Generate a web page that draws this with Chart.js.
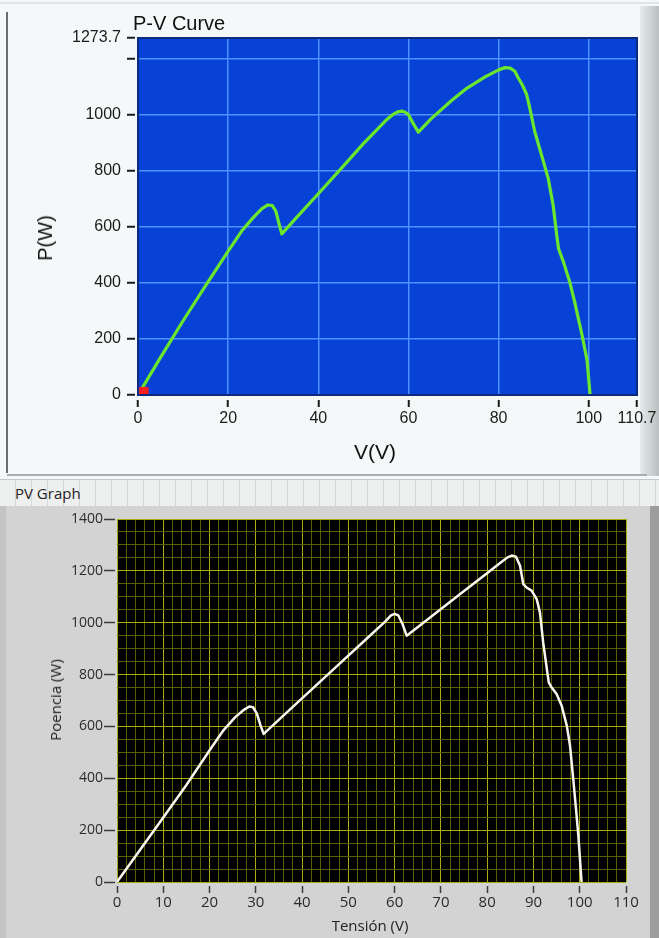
<!DOCTYPE html>
<html>
<head>
<meta charset="utf-8">
<title>P-V Curve / PV Graph</title>
<script src="https://cdn.jsdelivr.net/npm/chart.js@4.4.1/dist/chart.umd.min.js"></script>
<style>
    html, body { margin: 0; padding: 0; }
    body {
        width: 659px; height: 938px; position: relative; overflow: hidden;
        background: #f4f8f9;
        font-family: "Liberation Sans", Arial, sans-serif;
    }
    .abs { position: absolute; }
    #topLine { left: 0; top: 2px; width: 659px; height: 2px; background: #dfe4e4; }
    #leftFrame { left: 6px; top: 12px; width: 2px; height: 461px; background: #6b6e6e; }
    #topBottomLine { left: 7px; top: 474px; width: 640px; height: 2px; background: #a9aeae; }
    #topRightBar { left: 640px; top: 6px; width: 19px; height: 470px;
        background: linear-gradient(to right, #e6ecec, #b7bfbf); }
    #tabBar { left: 0; top: 479px; width: 659px; height: 27px; background: #eef0f0;
        background-image: repeating-linear-gradient(to right, transparent 0, transparent 15px, #d3d7d7 15px, #d3d7d7 16px);
        border-top: 1px solid #c3c7c7; }
    #tabLabel { left: 15px; top: 486px; font: 15px/1 "Open Sans", sans-serif; color: #222; }
    #bottomPanel { left: 0; top: 506px; width: 659px; height: 432px; background: #d3d3d3; }
    #bottomLeft { left: 0; top: 506px; width: 6px; height: 432px; background: #c4c4c4; }
    #bottomRight { left: 650px; top: 506px; width: 9px; height: 432px; background: #9d9d9d; }
    #curveTitle { left: 133px; top: 13px; font-size: 20px; line-height: 1; color: #111; }
    .ytitle { transform: translate(-50%, -50%) rotate(-90deg); white-space: nowrap; line-height: 1; }
    .xtitle { transform: translate(-50%, -50%); white-space: nowrap; line-height: 1; }
    #curveY { left: 45px; top: 238px; font-size: 20px; color: #111; }
    #curveX { left: 375px; top: 451px; font-size: 21px; color: #111; }
    #graphY { left: 55px; top: 700px; font: 15px "Open Sans", sans-serif; color: #222; }
    #graphX { left: 370px; top: 925px; font: 15px "Open Sans", sans-serif; color: #222; }
    canvas { position: absolute; left: 0; }
</style>
</head>
<body>
<div class="abs" id="topLine"></div>
<div class="abs" id="leftFrame"></div>
<div class="abs" id="topRightBar"></div>
<div class="abs" id="topBottomLine"></div>
<div class="abs" id="tabBar"></div>
<div class="abs" id="tabLabel">PV Graph</div>
<div class="abs" id="bottomPanel"></div>
<div class="abs" id="bottomLeft"></div>
<div class="abs" id="bottomRight"></div>

<canvas id="pvCurve" width="659" height="470" style="top:0"></canvas>
<canvas id="pvGraph" width="659" height="433" style="top:505px"></canvas>

<div class="abs" id="curveTitle">P-V Curve</div>
<div class="abs ytitle" id="curveY">P(W)</div>
<div class="abs xtitle" id="curveX">V(V)</div>
<div class="abs ytitle" id="graphY">Poencia (W)</div>
<div class="abs xtitle" id="graphX">Tensión (V)</div>

<script>
// ---- top chart: P-V Curve (green) ----
const curveVoltage = [0, 5, 10, 15, 20, 23, 25.5, 27.5, 28.8, 29.8, 30.6, 31.3, 31.9, 35, 40, 45, 50, 55, 56.5,
    57.6, 58.5, 59.3, 60, 61, 62.2, 65, 69.5, 73, 77, 80, 81.4, 82.6, 83.6, 84.3, 85.3, 86.2, 86.9, 88, 89.5, 91,
    92.1, 92.9, 93.3, 94.4, 95.8, 96.9, 98.4, 99.6, 100.3];
const curvePower = [0, 134, 265, 390, 513, 585, 632, 665, 678, 676, 655, 610, 575, 630, 718, 807, 897, 980, 1000,
    1010, 1013, 1009, 1000, 970, 938, 985, 1050, 1095, 1135, 1160, 1168, 1166, 1155, 1133, 1105, 1073, 1025, 941, 857,
    773, 677, 569, 522, 474, 402, 330, 222, 126, 0];
const markerVoltage = [1.3];
const markerPower = [12];
const curveXTicks = [0, 20, 40, 60, 80, 100, 110.7];
const curveYTicks = [0, 200, 400, 600, 800, 1000, 1200, 1273.7];
const curveYUnlabeled = [1200];

// ---- bottom chart: PV Graph (white) ----
const graphVoltage = [0, 5, 10, 15, 20.2, 23, 25.5, 27.5, 28.6, 29.4, 30.2, 31, 31.7, 37, 43.2, 48, 54, 58, 59.2,
    60, 60.8, 61.7, 62.6, 66, 70.5, 75, 79.9, 83, 84.4, 85.3, 86.2, 87.1, 87.8, 88.5, 89.6, 90.7, 91.4, 92.1, 92.9,
    93.3, 93.9, 95, 96.1, 97.2, 97.9, 98.6, 99.2, 99.7, 100.4];
const graphPower = [0, 124, 249, 374, 513, 585, 635, 665, 677, 674, 650, 605, 571, 659, 761, 840, 939, 1005, 1028,
    1034, 1028, 995, 950, 997, 1060, 1122, 1190, 1233, 1252, 1259, 1255, 1220, 1149, 1136, 1124, 1091, 1040, 924, 821,
    770, 751, 725, 680, 603, 526, 397, 281, 179, 0];
const graphXMax = 110, graphXMinor = 2, graphXMajor = 10;
const graphYMax = 1400, graphYMinor = 50, graphYMajor = 200;

const toPoints = (xs, ys) => xs.map((x, i) => ({ x: x, y: ys[i] }));

// fills (and optionally outlines) the plot area
const plotBackground = {
    id: 'plotBackground',
    beforeDraw(chart, args, opts) {
        const { ctx, chartArea: a } = chart;
        ctx.save();
        ctx.fillStyle = opts.color;
        ctx.fillRect(a.left, a.top, a.width, a.height);
        ctx.restore();
    },
    afterDraw(chart, args, opts) {
        if (!opts.border) return;
        const { ctx, chartArea: a } = chart;
        ctx.save();
        ctx.strokeStyle = opts.border;
        ctx.lineWidth = 2;
        ctx.strokeRect(a.left, a.top, a.width, a.height);
        ctx.restore();
    }
};

const commonOptions = {
    responsive: false,
    animation: false,
    events: [],
    plugins: { legend: { display: false }, tooltip: { enabled: false } }
};

const curveFont = { family: '"Liberation Sans", Arial, sans-serif', size: 16 };

new Chart(document.getElementById('pvCurve'), {
    type: 'scatter',
    data: {
        datasets: [
            {
                data: toPoints(markerVoltage, markerPower),
                pointStyle: 'rect',
                pointRadius: 6,
                backgroundColor: '#ff1c1c',
                borderColor: '#ff1c1c'
            },
            {
                data: toPoints(curveVoltage, curvePower),
                showLine: true,
                borderColor: '#6ae62c',
                borderWidth: 3.2,
                borderJoinStyle: 'round',
                pointRadius: 0,
                tension: 0
            }
        ]
    },
    plugins: [plotBackground],
    options: {
        ...commonOptions,
        layout: { padding: { left: 0, top: 38, right: 22, bottom: 0 } },
        plugins: { ...commonOptions.plugins, plotBackground: { color: '#0841d6', border: '#0d2a7c' } },
        scales: {
            x: {
                type: 'linear',
                min: 0,
                max: 110.7,
                afterBuildTicks: (scale) => { scale.ticks = curveXTicks.map(v => ({ value: v })); },
                afterFit: (scale) => { scale.height = 75; },
                border: { display: false },
                grid: {
                    color: (c) => (c.tick.value === 0 || c.tick.value === 110.7) ? 'rgba(0,0,0,0)' : '#4f91ff',
                    lineWidth: 1.5,
                    tickColor: '#1c1c1c',
                    tickWidth: 2,
                    tickLength: 12,
                    tickBorderDash: [0, 5, 7, 100]
                },
                ticks: {
                    autoSkip: false,
                    maxRotation: 0,
                    padding: 2,
                    color: '#1b1b1b',
                    font: curveFont,
                    callback: (v) => String(v)
                }
            },
            y: {
                type: 'linear',
                min: 0,
                max: 1273.7,
                afterBuildTicks: (scale) => { scale.ticks = curveYTicks.map(v => ({ value: v })); },
                afterFit: (scale) => { scale.width = 138; },
                border: { display: false },
                grid: {
                    color: (c) => (c.tick.value === 0 || c.tick.value === 1273.7) ? 'rgba(0,0,0,0)' : '#4f91ff',
                    lineWidth: 1.5,
                    tickColor: '#1c1c1c',
                    tickWidth: 2,
                    tickLength: 11,
                    tickBorderDash: [8, 100]
                },
                ticks: {
                    autoSkip: false,
                    padding: 6,
                    color: '#1b1b1b',
                    font: curveFont,
                    callback: (v) => curveYUnlabeled.includes(v) ? '' : String(v)
                }
            }
        }
    }
});

const graphFont = { family: '"Open Sans", sans-serif', size: 14 };
const majorGrid = '#a9ad12';
const minorGrid = '#5a5e00';

new Chart(document.getElementById('pvGraph'), {
    type: 'scatter',
    data: {
        datasets: [{
            data: toPoints(graphVoltage, graphPower),
            showLine: true,
            borderColor: '#f6f6ee',
            borderWidth: 2.5,
            borderJoinStyle: 'round',
            pointRadius: 0,
            tension: 0
        }]
    },
    plugins: [plotBackground],
    options: {
        ...commonOptions,
        layout: { padding: { left: 0, top: 14, right: 33, bottom: 0 } },
        plugins: { ...commonOptions.plugins, plotBackground: { color: '#000000' } },
        scales: {
            x: {
                type: 'linear',
                min: 0,
                max: graphXMax,
                afterFit: (scale) => { scale.height = 56; },
                border: { display: false },
                grid: {
                    color: (c) => c.tick.value % graphXMajor === 0 ? majorGrid : minorGrid,
                    lineWidth: 1,
                    tickColor: (c) => c.tick.value % graphXMajor === 0 ? '#3a3a3a' : 'rgba(0,0,0,0)',
                    tickWidth: 1.5,
                    tickLength: 11,
                    tickBorderDash: [0, 4, 7, 100]
                },
                ticks: {
                    stepSize: graphXMinor,
                    autoSkip: false,
                    maxRotation: 0,
                    padding: 1,
                    color: '#2b2b2b',
                    font: { ...graphFont, size: 15 },
                    callback: (v) => v % graphXMajor === 0 ? String(v) : ''
                }
            },
            y: {
                type: 'linear',
                min: 0,
                max: graphYMax,
                afterFit: (scale) => { scale.width = 117; },
                border: { display: false },
                grid: {
                    color: (c) => c.tick.value % graphYMajor === 0 ? majorGrid : minorGrid,
                    lineWidth: 1,
                    tickColor: (c) => c.tick.value % graphYMajor === 0 ? '#3a3a3a' : 'rgba(0,0,0,0)',
                    tickWidth: 1.5,
                    tickLength: 13,
                    tickBorderDash: [11, 100]
                },
                ticks: {
                    stepSize: graphYMinor,
                    autoSkip: false,
                    padding: 1,
                    color: '#2b2b2b',
                    font: graphFont,
                    callback: (v) => v % graphYMajor === 0 ? String(v) : ''
                }
            }
        }
    }
});
</script>
</body>
</html>
